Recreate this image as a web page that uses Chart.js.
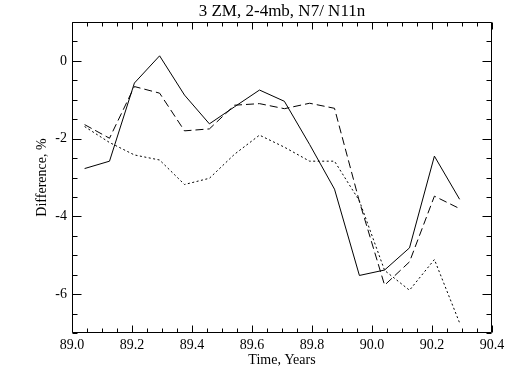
<!DOCTYPE html>
<html><head><meta charset="utf-8">
<script src="https://cdn.jsdelivr.net/npm/chart.js@4/dist/chart.umd.min.js"></script>
<style>html,body{margin:0;padding:0;background:#fff;}#wrap{width:514px;height:378px;}</style>
</head><body><div id="wrap"><canvas id="c" width="514" height="378"></canvas></div>
<script>
const years = [89.042, 89.125, 89.208, 89.292, 89.375, 89.458, 89.542, 89.625, 89.708, 89.792, 89.875, 89.958, 90.042, 90.125, 90.208, 90.292];
const solidValues  = [-2.77, -2.58, -0.57, 0.13, -0.88, -1.62, -1.18, -0.75, -1.04, -2.15, -3.30, -5.52, -5.38, -4.81, -2.45, -3.56];
const dashedValues = [-1.64, -1.99, -0.66, -0.83, -1.80, -1.75, -1.14, -1.10, -1.23, -1.09, -1.22, -3.62, -5.77, -5.17, -3.48, -3.80];
const dottedValues = [-1.69, -2.10, -2.42, -2.55, -3.18, -3.02, -2.40, -1.91, -2.22, -2.58, -2.58, -3.60, -5.39, -5.90, -5.11, -6.74];
const xTicks = [89.0, 89.2, 89.4, 89.6, 89.8, 90.0, 90.2, 90.4];
const yTicks = [-6, -4, -2, 0];
const xMinorStep = 0.05;
const yMinorStep = 0.5;

const FONT = "'Liberation Serif', 'Times New Roman', serif";
const toPts = arr => arr.map((v, i) => ({x: years[i], y: v}));

const framePlugin = {
  id: 'frame',
  afterDatasetsDraw(chart) {
    const {ctx, chartArea: a, scales: {x, y}} = chart;
    ctx.save();
    ctx.strokeStyle = '#000';
    ctx.lineWidth = 1;
    ctx.beginPath();
    const L = Math.round(a.left) + 0.5, R = Math.round(a.right) - 0.5;
    const T = Math.round(a.top) + 0.5, B = Math.round(a.bottom) - 0.5;
    ctx.rect(L, T, R - L, B - T);
    const nx = Math.round((x.max - x.min) / xMinorStep);
    for (let i = 0; i <= nx; i++) {
      const v = x.min + i * xMinorStep;
      const major = xTicks.some(t => Math.abs(t - v) < 1e-6);
      const len = major ? 7 : 4;
      const px = Math.round(x.getPixelForValue(v)) + 0.5;
      ctx.moveTo(px, B); ctx.lineTo(px, B - len);
      ctx.moveTo(px, T); ctx.lineTo(px, T + len);
    }
    const ny = Math.round((y.max - y.min) / yMinorStep);
    for (let i = 0; i <= ny; i++) {
      const v = y.min + i * yMinorStep;
      const major = yTicks.some(t => Math.abs(t - v) < 1e-6);
      const len = major ? 9 : 5;
      const py = Math.round(y.getPixelForValue(v)) + 0.5;
      ctx.moveTo(L, py); ctx.lineTo(L + len, py);
      ctx.moveTo(R, py); ctx.lineTo(R - len, py);
    }
    ctx.stroke();
    ctx.restore();
  }
};

const mk = (label, vals, dash) => ({
  label, data: toPts(vals), borderColor: '#000', borderWidth: 1, borderDash: dash,
  pointRadius: 0, tension: 0, fill: false
});

new Chart(document.getElementById('c'), {
  type: 'line',
  data: { datasets: [
    mk('solid', solidValues, []),
    mk('dashed', dashedValues, [8, 4]),
    mk('dotted', dottedValues, [2, 2.5])
  ]},
  options: {
    responsive: false, animation: false, devicePixelRatio: 1,
    layout: { padding: { left: 0, right: 22, top: 0, bottom: 0 } },
    plugins: {
      legend: { display: false }, tooltip: { enabled: false },
      title: { display: true, fullSize: false, text: '3 ZM, 2-4mb, N7/ N11n', color: '#000',
        font: { family: FONT, size: 17, weight: 'normal', lineHeight: 1.2 },
        padding: { top: 1, bottom: 0.6 } }
    },
    scales: {
      x: {
        type: 'linear', min: 89.0, max: 90.4,
        afterBuildTicks: s => { s.ticks = xTicks.map(v => ({ value: v })); },
        afterFit: s => { s.height = 45; },
        ticks: { callback: v => Number(v).toFixed(1), color: '#000', padding: 4, maxRotation: 0, autoSkip: false,
          font: { family: FONT, size: 14 } },
        grid: { display: false, drawTicks: false },
        border: { display: false },
        title: { display: true, text: 'Time, Years', color: '#000',
          font: { family: FONT, size: 14, lineHeight: 1.2 }, padding: { top: 0, bottom: 9.6 } }
      },
      y: {
        type: 'linear', min: -7, max: 1,
        afterBuildTicks: s => { s.ticks = yTicks.map(v => ({ value: v })); },
        afterFit: s => { s.width = 72; },
        ticks: { callback: v => String(v), color: '#000', padding: 5,
          font: { family: FONT, size: 14 } },
        grid: { display: false, drawTicks: false },
        border: { display: false },
        title: { display: true, text: 'Difference, %', color: '#000',
          font: { family: FONT, size: 14, lineHeight: 1.2 }, padding: { top: 33.6, bottom: 0 } }
      }
    }
  },
  plugins: [framePlugin]
});
</script></body></html>
